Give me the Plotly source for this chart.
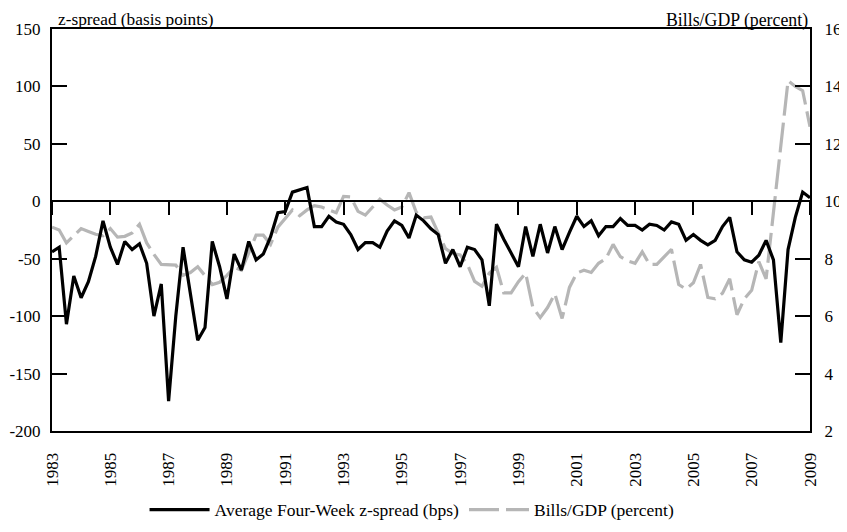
import pandas as pd
import plotly.graph_objects as go

# quarterly observations, 1983Q1 .. 2009Q1
quarters = pd.date_range("1983-01-01", "2009-01-01", freq="QS")

# Average four-week z-spread (bps), left axis
zspread = [
    -44, -40, -107, -65,
    -84, -70, -48, -17,
    -40, -55, -35, -42,
    -37, -54, -100, -72,
    -174, -100, -40, -82,
    -121, -110, -35, -57,
    -85, -46, -60, -35,
    -51, -46, -31, -10,
    -9, 8, 10, 12,
    -22, -22, -13, -18,
    -20, -29, -42, -36,
    -36, -40, -26, -17,
    -21, -32, -12, -17,
    -24, -29, -54, -42,
    -57, -40, -42, -51,
    -91, -20, -33, -45,
    -57, -22, -48, -20,
    -45, -22, -42, -27,
    -13, -22, -17, -30,
    -22, -22, -15, -21,
    -21, -25, -20, -21,
    -25, -18, -20, -34,
    -29, -34, -38, -34,
    -22, -14, -44, -51,
    -53, -47, -34, -51,
    -123, -42, -14, 8,
    3,
]

# Bills/GDP (percent), right axis
bills_gdp = [
    9.1, 9.0, 8.55, 8.8,
    9.05, 8.95, 8.85, 8.8,
    9.05, 8.75, 8.78, 8.9,
    9.2, 8.55, 8.15, 7.8,
    7.8, 7.78, 7.42, 7.52,
    7.72, 7.4, 7.1, 7.18,
    7.42, 7.7, 7.6, 8.2,
    8.82, 8.82, 8.5, 9.1,
    9.4, 9.7, 9.5, 9.7,
    9.85, 9.8, 9.7, 9.6,
    10.17, 10.15, 9.65, 9.52,
    9.8, 10.07, 9.87, 9.7,
    9.8, 10.3, 9.62, 9.42,
    9.45, 8.9, 8.35, 8.18,
    8.13, 7.8, 7.21, 7.04,
    7.5, 7.7, 6.81, 6.81,
    7.2, 7.5, 6.3, 5.95,
    6.3, 6.78, 5.92, 7.0,
    7.5, 7.6, 7.52, 7.84,
    8.0, 8.5, 8.07, 7.92,
    7.84, 8.24, 7.8, 7.8,
    8.05, 8.33, 7.1, 6.94,
    7.16, 7.8, 6.65, 6.6,
    6.8, 7.3, 6.05, 6.6,
    6.9, 7.9, 7.3, 9.6,
    12.0, 14.2, 14.0, 13.85,
    12.6,
]

year_ticks = ["1983", "1985", "1987", "1989", "1991", "1993", "1995",
              "1997", "1999", "2001", "2003", "2005", "2007", "2009"]
left_ticks = [-200, -150, -100, -50, 0, 50, 100, 150]
left_labels = ["-200", "-150", "-100", "-50", "0", "50", "100", "150"]
right_ticks = [2, 4, 6, 8, 10, 12, 14, 16]

FONT = "'Liberation Serif', 'Times New Roman', 'DejaVu Serif', serif"
tick_dates = [pd.Timestamp(y + "-01-01") for y in year_ticks]

fig = go.Figure()

fig.add_trace(go.Scatter(
    x=quarters, y=bills_gdp, xaxis="x", yaxis="y",
    mode="lines", name="Bills/GDP (percent)",
    line=dict(color="#b6b6b6", width=3.2, dash="30px,7px"),
))
fig.add_trace(go.Scatter(
    x=quarters, y=zspread, xaxis="x", yaxis="y2",
    mode="lines", name="Average Four-Week z-spread (bps)",
    line=dict(color="black", width=3.2),
))
# carries the axis drawn at zero
fig.add_trace(go.Scatter(x=[], y=[], xaxis="x2", yaxis="y2", showlegend=False))

xrange_ = [pd.Timestamp("1983-01-01"), pd.Timestamp("2009-01-01")]

# the page puts the figure 8px in from the top-left corner
fig.update_layout(
    width=847, height=532,
    margin=dict(l=44, r=45, t=21, b=103),
    paper_bgcolor="white", plot_bgcolor="white",
    font=dict(family=FONT, size=17, color="black"),
    xaxis=dict(
        type="date", range=xrange_, automargin=False,
        tickvals=tick_dates, ticktext=year_ticks, tickangle=-90,
        ticks="", showgrid=False, zeroline=False,
        showline=True, linecolor="black", linewidth=2, mirror=True,
        tickfont=dict(size=17), ticklabelstandoff=13,
    ),
    xaxis2=dict(
        type="date", range=xrange_, overlaying="x",
        anchor="free", position=200 / 350, side="bottom",
        tickvals=tick_dates, showticklabels=False,
        ticks="outside", ticklen=13, tickwidth=2, tickcolor="black",
        showgrid=False, zeroline=False,
        showline=True, linecolor="black", linewidth=2,
    ),
    yaxis=dict(
        range=[2, 16], side="right", tickvals=right_ticks, automargin=False,
        ticks="inside", ticklen=15, tickwidth=2, tickcolor="black",
        showgrid=False, zeroline=False,
        showline=True, linecolor="black", linewidth=2,
        tickfont=dict(size=17), ticklabelstandoff=9,
    ),
    yaxis2=dict(
        range=[-200, 150], side="left", overlaying="y", anchor="x",
        automargin=False,
        tickvals=left_ticks, ticktext=left_labels,
        ticks="inside", ticklen=15, tickwidth=2, tickcolor="black",
        showgrid=False, zeroline=False,
        showline=True, linecolor="black", linewidth=2,
        tickfont=dict(size=17), ticklabelstandoff=6,
    ),
    legend=dict(
        orientation="h", x=0.475, xanchor="center", y=-0.196, yanchor="middle",
        font=dict(size=17.5), itemwidth=60, traceorder="reversed",
        bgcolor="rgba(0,0,0,0)",
    ),
    annotations=[
        dict(text="z-spread (basis points)", xref="paper", yref="paper",
             x=0, y=1, xanchor="left", yanchor="top", xshift=4, yshift=21,
             showarrow=False, font=dict(size=17.3)),
        dict(text="Bills/GDP (percent)", xref="paper", yref="paper",
             x=1, y=1, xanchor="right", yanchor="top", xshift=0, yshift=21,
             showarrow=False, font=dict(size=17.8)),
    ],
)

fig.write_html("out.html")
